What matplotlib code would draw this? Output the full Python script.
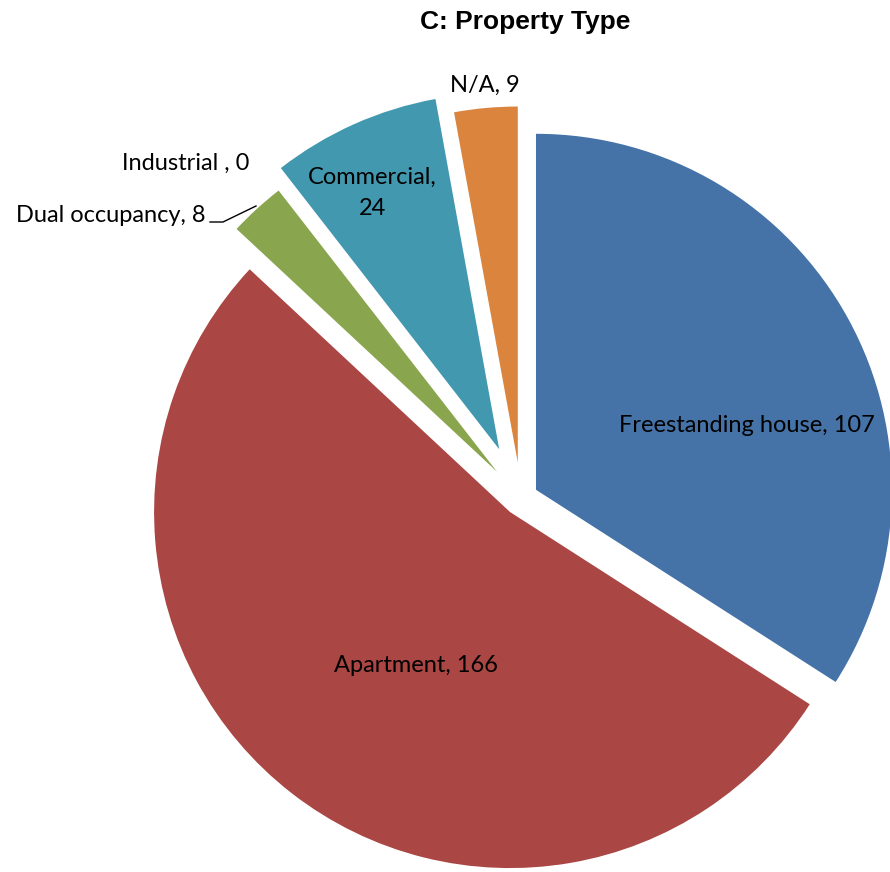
import numpy as np
import matplotlib.pyplot as plt

# Données du graphique
categories = ['Freestanding house', 'Apartment', 'Dual occupancy', 'Industrial ', 'Commercial', 'N/A']
valeurs = [107, 166, 8, 0, 24, 9]
couleurs = ['#4572A7', '#AA4643', '#89A54E', '#71588F', '#4198AF', '#DB843D']
eclatement = [0.048, 0.05, 0.10, 0.10, 0.15, 0.10]

# Conversion pixels -> coordonnées (centre du camembert, rayon en px)
W, H = 890, 872
cx, cy, R = 521.0, 498.0, 356.0


def px(x, y):
    return (x - cx) / R, (cy - y) / R


fig = plt.figure(figsize=(W / 100, H / 100), dpi=100)
ax = fig.add_axes([0, 0, 1, 1])

ax.pie(valeurs, colors=couleurs, explode=eclatement, startangle=90,
       counterclock=False, radius=1.0, wedgeprops=dict(linewidth=0))

ax.set_xlim(-cx / R, (W - cx) / R)
ax.set_ylim((cy - H) / R, cy / R)
ax.set_aspect('equal', adjustable='datalim')
ax.axis('off')

police = 'Lato'
taille = 17

# Étiquettes internes
ax.text(*px(747, 425), f'{categories[0]}, {valeurs[0]}', ha='center', va='center',
        fontsize=taille, family=police)
ax.text(*px(416, 665), f'{categories[1]}, {valeurs[1]}', ha='center', va='center',
        fontsize=taille, family=police)
ax.text(*px(372, 193), f'{categories[4]},\n{valeurs[4]}', ha='center', va='center',
        fontsize=taille, family=police, linespacing=1.55)

# Étiquettes externes
ax.text(*px(485, 85), f'{categories[5]}, {valeurs[5]}', ha='center', va='center',
        fontsize=taille, family=police)
ax.text(*px(249, 163), f'{categories[3]}, {valeurs[3]}', ha='right', va='center',
        fontsize=taille, family=police)
ax.text(*px(205, 215), f'{categories[2]}, {valeurs[2]}', ha='right', va='center',
        fontsize=taille, family=police)

# Ligne de rappel pour Dual occupancy
lx, ly = zip(px(210, 222), px(223, 222), px(256, 206))
ax.plot(lx, ly, color='black', linewidth=1)

ax.text(*px(525, 22), 'C: Property Type', ha='center', va='center',
        fontsize=19, fontweight='bold', family='Liberation Sans')

fig.savefig('out.png', dpi=100)
